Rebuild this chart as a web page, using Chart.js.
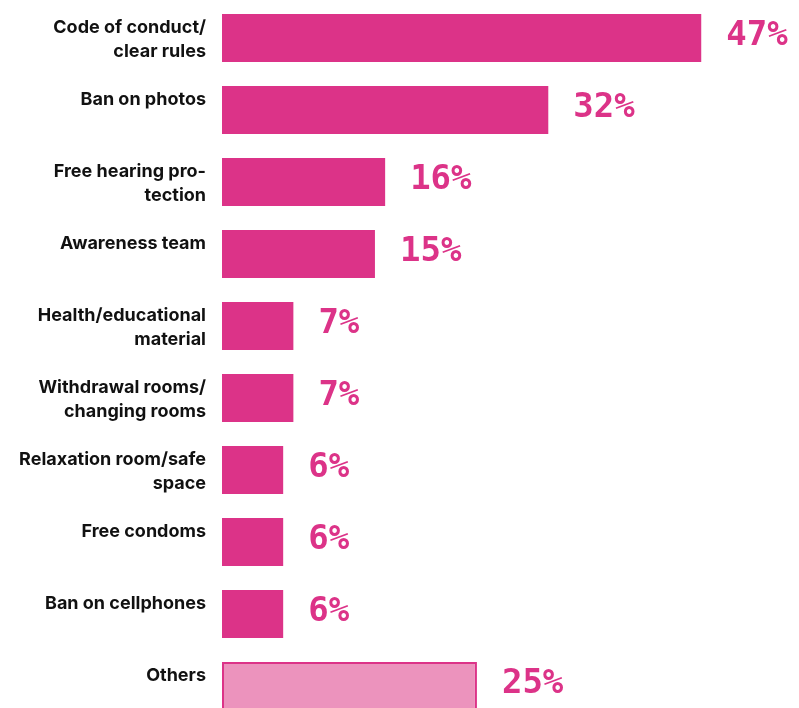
<!DOCTYPE html>
<html>
<head>
<meta charset="utf-8">
<script src="https://cdn.jsdelivr.net/npm/chart.js@4"></script>
<style>
  html, body { margin: 0; padding: 0; background: #ffffff; overflow: hidden; }
  #wrap { position: relative; width: 799px; height: 724px; }
</style>
</head>
<body>
<div id="wrap"><canvas id="c"></canvas></div>
<script>
const categories = [
  ["Code of conduct/", "clear rules"],
  ["Ban on photos"],
  ["Free hearing pro-", "tection"],
  ["Awareness team"],
  ["Health/educational", "material"],
  ["Withdrawal rooms/", "changing rooms"],
  ["Relaxation room/safe", "space"],
  ["Free condoms"],
  ["Ban on cellphones"],
  ["Others"]
];
const shares = [47, 32, 16, 15, 7, 7, 6, 6, 6, 25];
const valueLabels = shares.map(v => v + "%");

const PINK = "#DC3388";
const LIGHT = "#EC93BD";
const lastIndex = categories.length - 1;

const valueLabelPlugin = {
  id: "valueLabels",
  afterDatasetsDraw(chart) {
    const ctx = chart.ctx;
    const meta = chart.getDatasetMeta(0);
    ctx.save();
    ctx.font = "bold 34px 'DejaVu Sans Mono', monospace";
    ctx.fillStyle = PINK;
    ctx.textAlign = "left";
    ctx.textBaseline = "middle";
    meta.data.forEach((bar, i) => {
      ctx.fillText(valueLabels[i], bar.x + 25, bar.y - 2);
    });
    ctx.restore();
  }
};

new Chart(document.getElementById("c"), {
  type: "bar",
  data: {
    labels: categories,
    datasets: [{
      data: shares,
      backgroundColor: ctx => ctx.dataIndex === lastIndex ? LIGHT : PINK,
      borderColor: PINK,
      borderWidth: ctx => ctx.dataIndex === lastIndex ? 2 : 0,
      borderSkipped: false,
      barPercentage: 0.667,
      categoryPercentage: 1
    }]
  },
  options: {
    indexAxis: "y",
    responsive: true,
    maintainAspectRatio: false,
    animation: false,
    layout: { padding: { top: 2, bottom: 2, left: 0, right: 6 } },
    plugins: {
      legend: { display: false },
      tooltip: { enabled: false }
    },
    scales: {
      x: {
        display: false,
        min: 0,
        max: 56
      },
      y: {
        grid: { display: false, drawTicks: false },
        border: { display: false },
        afterFit(scale) {
          scale.width = 222;
          scale.paddingTop = 0;
          scale.paddingBottom = 0;
        },
        ticks: {
          padding: 16,
          labelOffset: 2,
          color: "#111111",
          font: { family: "Inter, 'Noto Sans', sans-serif", size: 18, weight: "bold", lineHeight: "24px" },
          callback(value, index) {
            const lines = categories[index].slice();
            while (lines.length < 2) lines.push("");
            return lines;
          }
        }
      }
    }
  },
  plugins: [valueLabelPlugin]
});
</script>
</body>
</html>
